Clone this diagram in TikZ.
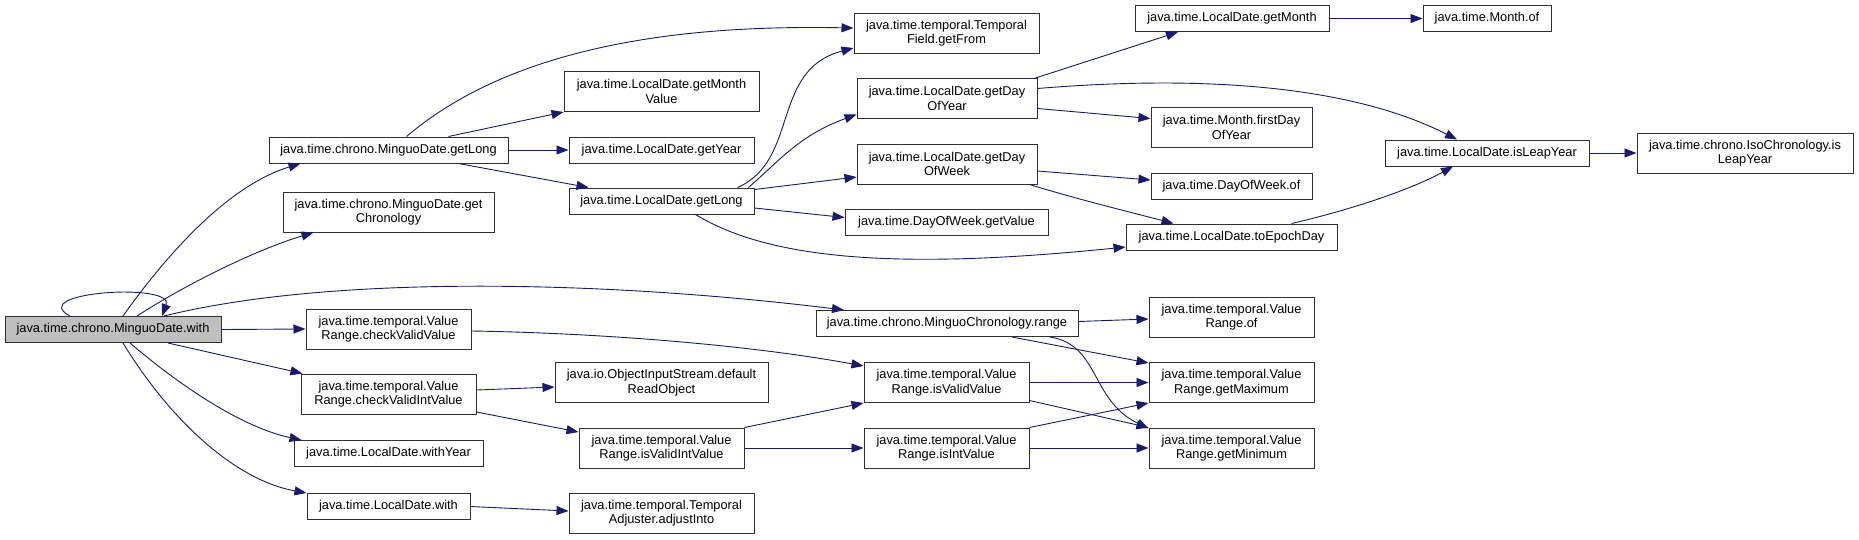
\documentclass[tikz,border=0pt]{standalone}
\usepackage{fontspec}
\setmainfont{Liberation Sans}
\usetikzlibrary{arrows.meta}
\definecolor{callblue}{HTML}{191970}
\definecolor{boxline}{HTML}{303030}
\definecolor{rootgrey}{HTML}{BFBFBF}

\begin{document}
\begin{tikzpicture}[x=1pt, y=-1pt, font=\fontsize{12.8}{14.5}\selectfont,
  fn/.style={draw=boxline, fill=white, line width=1pt, inner sep=0pt, align=center, minimum height=26pt},
  fntwo/.style={fn, minimum height=40pt},
  root/.style={fn, fill=rootgrey},
  call/.style={-{Triangle[length=12pt,width=9pt]}, callblue, line width=0.9pt}]
  \path[use as bounding box] (0,0) rectangle (1859,539);
  % column 1 and 2
  \node[root, minimum width=216pt] (with) at (113,329.5) {java.time.chrono.MinguoDate.with};
  \node[fn, minimum width=239pt] (mgl) at (388.5,150) {java.time.chrono.MinguoDate.getLong};
  \node[fntwo, minimum width=211pt] (chron) at (388.5,212) {java.time.chrono.MinguoDate.get\\Chronology};
  \node[fntwo, minimum width=165pt] (cvv) at (388.5,329) {java.time.temporal.Value\\Range.checkValidValue};
  \node[fntwo, minimum width=175pt] (cviv) at (388.5,394) {java.time.temporal.Value\\Range.checkValidIntValue};
  \node[fn, minimum width=189pt] (withyear) at (388.5,453.5) {java.time.LocalDate.withYear};
  \node[fn, minimum width=163pt] (ldwith) at (388.5,506.5) {java.time.LocalDate.with};
  % column 3
  \node[fntwo, minimum width=195pt] (gmv) at (661.5,91.5) {java.time.LocalDate.getMonth\\Value};
  \node[fn, minimum width=185pt] (getyear) at (661.5,150) {java.time.LocalDate.getYear};
  \node[fn, minimum width=185pt] (lgl) at (661.5,201) {java.time.LocalDate.getLong};
  \node[fntwo, minimum width=213pt] (readobj) at (661.5,382.5) {java.io.ObjectInputStream.default\\ReadObject};
  \node[fntwo, minimum width=165pt] (isvalidint) at (661.5,448) {java.time.temporal.Value\\Range.isValidIntValue};
  \node[fntwo, minimum width=185pt] (adjust) at (661.5,513) {java.time.temporal.Temporal\\Adjuster.adjustInto};
  % column 4
  \node[fntwo, minimum width=185pt] (getfrom) at (946.5,33) {java.time.temporal.Temporal\\Field.getFrom};
  \node[fntwo, minimum width=180pt] (gdoy) at (947,98.5) {java.time.LocalDate.getDay\\OfYear};
  \node[fntwo, minimum width=180pt] (gdow) at (947,164) {java.time.LocalDate.getDay\\OfWeek};
  \node[fn, minimum width=203pt] (dowval) at (946.5,222.5) {java.time.DayOfWeek.getValue};
  \node[fn, minimum width=262pt] (range) at (947,323.5) {java.time.chrono.MinguoChronology.range};
  \node[fntwo, minimum width=165pt] (isvalid) at (946.5,382.5) {java.time.temporal.Value\\Range.isValidValue};
  \node[fntwo, minimum width=165pt] (isint) at (946.5,448) {java.time.temporal.Value\\Range.isIntValue};
  % column 5
  \node[fn, minimum width=194pt] (getmonth) at (1232,18.5) {java.time.LocalDate.getMonth};
  \node[fntwo, minimum width=161pt] (firstday) at (1231.5,127.5) {java.time.Month.firstDay\\OfYear};
  \node[fn, minimum width=161pt] (dowof) at (1231.5,186) {java.time.DayOfWeek.of};
  \node[fn, minimum width=211pt] (epoch) at (1231.5,237) {java.time.LocalDate.toEpochDay};
  \node[fntwo, minimum width=165pt] (vrof) at (1231.5,317) {java.time.temporal.Value\\Range.of};
  \node[fntwo, minimum width=165pt] (getmax) at (1231.5,382.5) {java.time.temporal.Value\\Range.getMaximum};
  \node[fntwo, minimum width=165pt] (getmin) at (1231.5,448) {java.time.temporal.Value\\Range.getMinimum};
  % column 6 and 7
  \node[fn, minimum width=128pt] (monthof) at (1487,18.5) {java.time.Month.of};
  \node[fn, minimum width=204pt] (leap) at (1487,153) {java.time.LocalDate.isLeapYear};
  \node[fntwo, minimum width=216pt] (isoleap) at (1745,153) {java.time.chrono.IsoChronology.is\\LeapYear};
  % calls out of with
  \draw[call] ([xshift=-43]with.north) .. controls (25,292) and (175,282) .. ([xshift=49]with.north);
  \draw[call] ([xshift=10]with.north) .. controls (170,250) and (230,185) .. ([xshift=-88]mgl.south);
  \draw[call] ([xshift=24]with.north) .. controls (185,285) and (255,250) .. ([xshift=-75]chron.south);
  \draw[call] ([xshift=51]with.north) .. controls (330,275) and (600,280) .. ([xshift=-103]range.north);
  \draw[call] (with.east) -- (cvv.west);
  \draw[call] ([xshift=55]with.south) -- ([xshift=2]cviv.north west);
  \draw[call] ([xshift=17]with.south) .. controls (185,390) and (245,428) .. ([xshift=-87]withyear.north);
  \draw[call] ([xshift=10]with.south) .. controls (170,420) and (235,480) .. ([xshift=-82]ldwith.north);
  % upper part
  \draw[call] ([xshift=18]mgl.north) .. controls (520,40) and (700,25) .. ([yshift=5]getfrom.west);
  \draw[call] ([xshift=60]mgl.north) -- (gmv.south west);
  \draw[call] (mgl.east) -- (getyear.west);
  \draw[call] ([xshift=70]mgl.south) -- ([xshift=-73]lgl.north);
  \draw[call] ([xshift=76]lgl.north) .. controls (800,160) and (770,70) .. ([yshift=-15]getfrom.west);
  \draw[call] ([xshift=87]lgl.north) .. controls (780,160) and (800,135) .. ([yshift=-16]gdoy.west);
  \draw[call] ([yshift=-2]lgl.north east) -- ([yshift=-13]gdow.west);
  \draw[call] ([yshift=-7]lgl.east) -- ([yshift=5]dowval.west);
  \draw[call] ([xshift=34]lgl.south) .. controls (770,260) and (900,270) .. ([yshift=-10]epoch.west);
  \draw[call] ([xshift=-2]gdoy.north east) -- ([xshift=-54]getmonth.south);
  \draw[call] ([yshift=10]gdoy.east) .. controls (1200,75) and (1350,85) .. ([xshift=-30]leap.north);
  \draw[call] ([yshift=-10]gdoy.east) -- ([yshift=9]firstday.west);
  \draw[call] ([yshift=-7]gdow.east) -- ([yshift=6]dowof.west);
  \draw[call] ([xshift=-8]gdow.south east) .. controls (1080,200) and (1130,212) .. ([xshift=-58]epoch.north);
  \draw[call] ([xshift=60]epoch.north) .. controls (1350,210) and (1410,190) .. ([xshift=-34]leap.south);
  \draw[call] (getmonth.east) -- (monthof.west); \draw[call] (leap.east) -- (isoleap.west);
  % lower part
  \draw[call] ([yshift=-2]cvv.east) .. controls (600,333) and (750,345) .. ([yshift=-4]isvalid.north west);
  \draw[call] ([yshift=4]cviv.east) -- ([yshift=-4.5]readobj.west);
  \draw[call] ([yshift=-18]cviv.east) -- ([yshift=16]isvalidint.west);
  \draw[call] (isvalidint.north east) -- (isvalid.south west);
  \draw[call] (isvalidint.east) -- (isint.west);
  \draw[call] (isvalid.east) -- (getmax.west); \draw[call] ([yshift=-18]isvalid.east) -- (getmin.north west);
  \draw[call] (isint.north east) -- (getmax.south west); \draw[call] (isint.east) -- (getmin.west);
  \draw[call] ([yshift=2]range.east) -- ([yshift=-2]vrof.west);
  \draw[call] ([xshift=65]range.south) -- ([yshift=-1]getmax.north west);
  \draw[call] ([xshift=103]range.south) .. controls (1100,345) and (1090,400) .. ([yshift=-1]getmin.north west);
  \draw[call] (ldwith.east) -- ([yshift=2]adjust.west);
\end{tikzpicture}
\end{document}
